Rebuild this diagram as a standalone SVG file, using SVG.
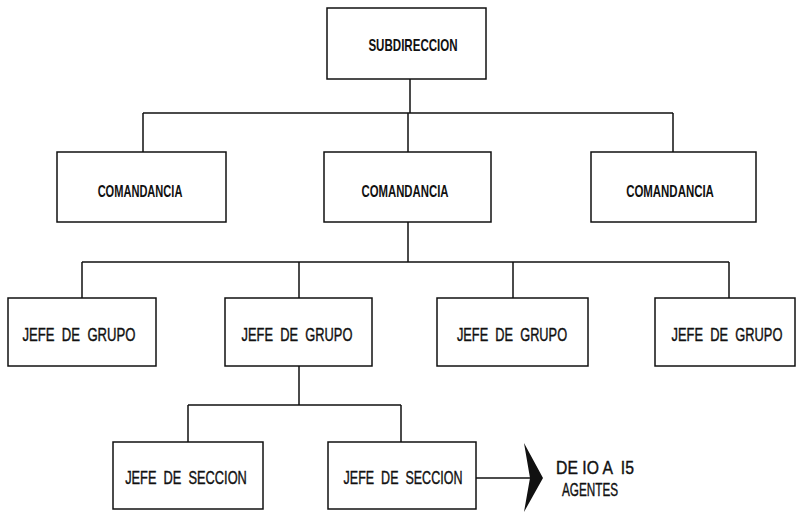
<svg xmlns="http://www.w3.org/2000/svg" width="798" height="516" viewBox="0 0 798 516">
<style>
.box{fill:#fff;stroke:#111;stroke-width:1.5}
.ln{fill:none;stroke:#111;stroke-width:1.5}
.t{font-family:"Liberation Sans",Arial,sans-serif;font-size:18px;fill:#111;stroke:#111;stroke-width:0.4;text-anchor:middle;white-space:pre}
.b{font-weight:bold;font-size:17px;stroke-width:0}
</style>
<rect width="798" height="516" fill="#fff"/>
<g id="connectors">
<path class="ln" d="M410 79V113M143 113H673M143 113V152M408 113V152M673 113V152"/>
<path class="ln" d="M408 222V262M82 262H729M82 262V298M299 262V298M513 262V298M729 262V298"/>
<path class="ln" d="M299 366V405M188 405H401M188 405V442M401 405V442"/>
<path class="ln" d="M476 478H536"/>
<polygon points="524,443 543,478 524,512 530,478" fill="#111"/>
</g>
<g id="subdireccion"><rect class="box" x="327" y="8" width="159" height="71"/><text class="t b" transform="translate(413,51) scale(0.75,1)" textLength="119" lengthAdjust="spacingAndGlyphs">SUBDIRECCION</text></g>
<g id="comandancia1"><rect class="box" x="57" y="152" width="169" height="70"/><text class="t b" transform="translate(140,197) scale(0.75,1)" textLength="113" lengthAdjust="spacingAndGlyphs">COMANDANCIA</text></g>
<g id="comandancia2"><rect class="box" x="324" y="152" width="167" height="70"/><text class="t b" transform="translate(405,197) scale(0.75,1)" textLength="116" lengthAdjust="spacingAndGlyphs">COMANDANCIA</text></g>
<g id="comandancia3"><rect class="box" x="591" y="152" width="165" height="70"/><text class="t b" transform="translate(670,197) scale(0.75,1)" textLength="117" lengthAdjust="spacingAndGlyphs">COMANDANCIA</text></g>
<g id="jefe_grupo1"><rect class="box" x="8" y="298" width="148" height="68"/><text class="t" transform="translate(79,341) scale(0.72,1)" textLength="157" lengthAdjust="spacingAndGlyphs" xml:space="preserve">JEFE  DE  GRUPO</text></g>
<g id="jefe_grupo2"><rect class="box" x="225" y="298" width="147" height="68"/><text class="t" transform="translate(297,341) scale(0.72,1)" textLength="154" lengthAdjust="spacingAndGlyphs" xml:space="preserve">JEFE  DE  GRUPO</text></g>
<g id="jefe_grupo3"><rect class="box" x="437" y="298" width="151" height="68"/><text class="t" transform="translate(512,341) scale(0.72,1)" textLength="153" lengthAdjust="spacingAndGlyphs" xml:space="preserve">JEFE  DE  GRUPO</text></g>
<g id="jefe_grupo4"><rect class="box" x="655" y="298" width="140" height="68"/><text class="t" transform="translate(727,341) scale(0.72,1)" textLength="154" lengthAdjust="spacingAndGlyphs" xml:space="preserve">JEFE  DE  GRUPO</text></g>
<g id="jefe_seccion1"><rect class="box" x="113" y="442" width="150" height="67"/><text class="t" transform="translate(186,484) scale(0.72,1)" textLength="169" lengthAdjust="spacingAndGlyphs" xml:space="preserve">JEFE  DE  SECCION</text></g>
<g id="jefe_seccion2"><rect class="box" x="328" y="442" width="148" height="67"/><text class="t" transform="translate(403,484) scale(0.72,1)" textLength="165" lengthAdjust="spacingAndGlyphs" xml:space="preserve">JEFE  DE  SECCION</text></g>
<g id="agentes"><text class="t" transform="translate(595,474) scale(0.72,1)" textLength="108" lengthAdjust="spacingAndGlyphs" xml:space="preserve">DE IO A  I5</text><text class="t" transform="translate(590,496) scale(0.72,1)" textLength="78" lengthAdjust="spacingAndGlyphs">AGENTES</text></g>
</svg>
